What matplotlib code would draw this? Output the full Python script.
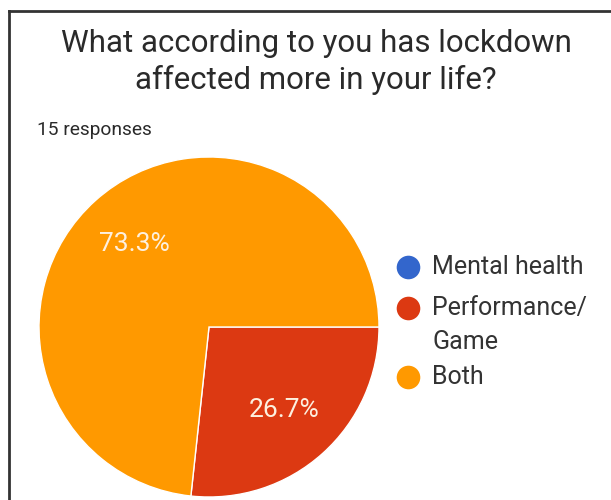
import matplotlib.pyplot as plt
from matplotlib.lines import Line2D

plt.rcParams['font.family'] = ['Roboto', 'DejaVu Sans']

title = "What according to you has lockdown\naffected more in your life?"
n_responses = 15
labels = ["Mental health", "Performance/\nGame", "Both"]
shares = [0.0, 26.7, 73.3]
colors = ["#3366cc", "#dc3912", "#ff9900"]

W, H = 611, 500
fig = plt.figure(figsize=(W/100, H/100), dpi=100)

# frame of the screenshot (top + left edges only visible)
fig.add_artist(Line2D([9/W, 9/W], [0, 1 - 11/H], color='#333333', lw=2))
fig.add_artist(Line2D([9/W, 1], [1 - 11/H, 1 - 11/H], color='#333333', lw=2))

fig.text(316/W, 1 - 62/H, title, ha='center', va='center', fontsize=22.5,
         color='#2a2a2a', linespacing=1.32)
fig.text(37/W, 1 - 130/H, "{} responses".format(n_responses), ha='left', va='center',
         fontsize=13.8, color='#2a2a2a')

# pie
cx, cy, r = 209, 327, 170
ax = fig.add_axes([(cx - r)/W, (H - cy - r)/H, 2*r/W, 2*r/H])
def pct(p):
    return "{:.1f}%".format(p) if p > 0 else ""
wedges, texts, autotexts = ax.pie(shares, colors=colors, startangle=0, counterclock=False,
                                  autopct=pct, pctdistance=0.66,
                                  wedgeprops=dict(edgecolor='white', linewidth=1))
for t in autotexts:
    t.set_color('#fdf0df')
    t.set_fontsize(19)
ax.set_xlim(-1, 1)
ax.set_ylim(-1, 1)

# legend
leg_y = [267, 308, 377]
for lab, col, y in zip(labels, colors, leg_y):
    fig.add_artist(Line2D([408/W], [1 - y/H], marker='o', markersize=17, color=col,
                          markeredgewidth=0))
    fig.text(432/W, 1 - y/H, lab.split("\n")[0], ha='left', va='center', fontsize=18,
             color='#333333')
    if "\n" in lab:
        fig.text(432/W, 1 - (y + 34)/H, lab.split("\n")[1], ha='left', va='center',
                 fontsize=18, color='#333333')

plt.savefig("out.png", dpi=100)
